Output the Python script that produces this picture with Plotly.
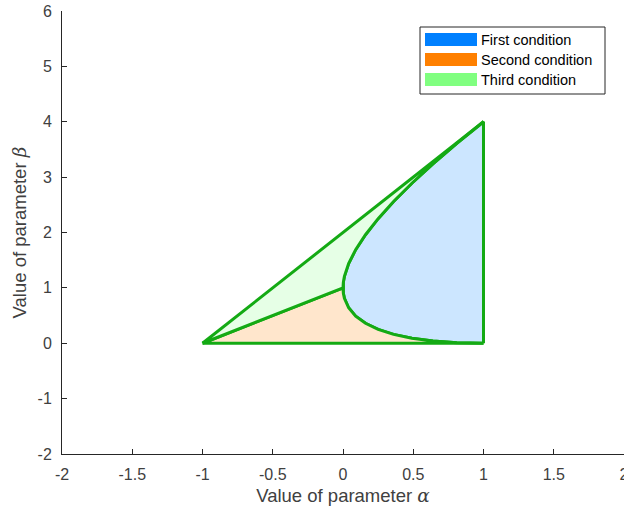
import plotly.graph_objects as go

# Boundary curve of the first-condition region, from (1, 0) through (0, 1) up to (1, 4)
alpha_curve = [1.0, 0.81, 0.64, 0.49, 0.36, 0.25, 0.16, 0.09, 0.04, 0.01, 0.0025, 0.0,
               0.0025, 0.01, 0.04, 0.09, 0.16, 0.25, 0.36, 0.49, 0.64, 0.81, 1.0]
beta_curve = [0.0, 0.01, 0.04, 0.09, 0.16, 0.25, 0.36, 0.49, 0.64, 0.81, 0.9025, 1.0,
              1.1025, 1.21, 1.44, 1.69, 1.96, 2.25, 2.56, 2.89, 3.24, 3.61, 4.0]

# Corner points of the outer triangle and the inner split point
alpha_corners = [-1.0, 1.0, 1.0]
beta_corners = [0.0, 4.0, 0.0]
alpha_split = [-1.0, 0.0]
beta_split = [0.0, 1.0]

condition_names = ["First condition", "Second condition", "Third condition"]
x_ticks = [-2, -1.5, -1, -0.5, 0, 0.5, 1, 1.5, 2]
y_ticks = [-2, -1, 0, 1, 2, 3, 4, 5, 6]

legend_colors = ["rgb(0,128,255)", "rgb(255,128,0)", "rgb(128,255,128)"]
fill_colors = ["rgb(204,230,255)", "rgb(255,230,204)", "rgb(230,255,230)"]
edge_color = "rgb(20,170,20)"
axis_color = "rgb(38,38,38)"
label_color = "rgb(64,64,64)"

n_mid = alpha_curve.index(0.0)
lower_a, lower_b = alpha_curve[: n_mid + 1], beta_curve[: n_mid + 1]
upper_a, upper_b = alpha_curve[n_mid:], beta_curve[n_mid:]

# Region outlines
region_x = [
    alpha_curve + [alpha_corners[1], alpha_corners[2]],
    [alpha_split[0], alpha_split[1]] + lower_a[::-1] + [alpha_corners[0]],
    [alpha_corners[0], alpha_corners[1]] + upper_a[::-1] + [alpha_split[0]],
]
region_y = [
    beta_curve + [beta_corners[1], beta_corners[2]],
    [beta_split[0], beta_split[1]] + lower_b[::-1] + [beta_corners[0]],
    [beta_corners[0], beta_corners[1]] + upper_b[::-1] + [beta_split[0]],
]

fig = go.Figure()
for name, xs, ys, fc in zip(condition_names, region_x, region_y, fill_colors):
    fig.add_trace(go.Scatter(
        x=xs, y=ys, mode="lines", fill="toself", fillcolor=fc,
        line=dict(color=edge_color, width=3), name=name, showlegend=False,
        hoverinfo="skip",
    ))

# Legend box drawn with wide colour patches
font_family = "Liberation Sans, Arial, sans-serif"
shapes = [dict(type="rect", xref="paper", yref="paper",
               x0=(420 - 62) / 562, x1=(605 - 62) / 562,
               y0=(454 - 94) / 443, y1=(454 - 27) / 443,
               line=dict(color=axis_color, width=1), fillcolor="white", layer="above")]
annotations = []
row_tops = [33, 53, 73]
for name, col, top in zip(condition_names, legend_colors, row_tops):
    shapes.append(dict(type="rect", xref="paper", yref="paper",
                       x0=(425 - 62) / 562, x1=(477 - 62) / 562,
                       y0=(454 - (top + 13)) / 443, y1=(454 - top) / 443,
                       line=dict(width=0), fillcolor=col, layer="above"))
    annotations.append(dict(xref="paper", yref="paper", x=(479 - 62) / 562,
                            y=(454 - (top + 6.5)) / 443, text=name, showarrow=False,
                            xanchor="left", yanchor="middle",
                            font=dict(family=font_family, size=14.5, color="black")))

greek = "font-family:'DejaVu Serif',serif;font-style:italic"
axis_common = dict(
    ticks="inside", ticklen=5, tickcolor=axis_color, showgrid=False, zeroline=False,
    showline=True, linecolor=axis_color, linewidth=1, ticklabeloverflow="allow",
    tickfont=dict(size=16, color=label_color), automargin=False,
)
fig.update_layout(
    width=624, height=511,
    margin=dict(l=62, r=0, t=11, b=57),
    plot_bgcolor="white", paper_bgcolor="white",
    font=dict(family=font_family, color=label_color),
    shapes=shapes, annotations=annotations, showlegend=False,
    xaxis=dict(
        range=[-2, 2], tickvals=x_ticks, ticktext=[f"{v:g}" for v in x_ticks],
        ticklabelstandoff=6,
        title=dict(text=f"Value of parameter <span style=\"{greek}\">α</span>",
                   font=dict(size=18.5, color=label_color), standoff=6),
        **axis_common,
    ),
    yaxis=dict(
        range=[-2, 6], tickvals=y_ticks, ticktext=[f"{v:g}" for v in y_ticks],
        ticklabelstandoff=6,
        title=dict(text=f"Value of parameter <span style=\"{greek}\">β</span>",
                   font=dict(size=18.5, color=label_color), standoff=6),
        **axis_common,
    ),
)

fig.write_html("out.html")
